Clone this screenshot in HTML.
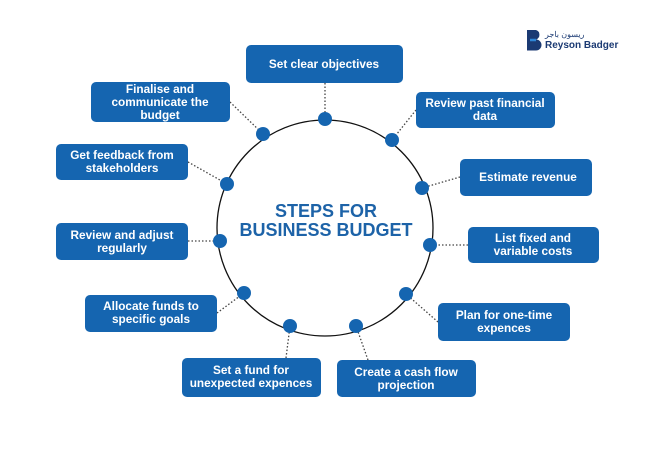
<!DOCTYPE html>
<html><head><meta charset="utf-8"><style>
html,body{margin:0;padding:0;background:#fff;width:650px;height:450px;overflow:hidden}
svg{display:block}
.b{fill:#1565b0}
.t{font-family:"Liberation Sans",sans-serif;font-weight:bold;font-size:11.8px;fill:#fff;text-anchor:middle}
.c{stroke:#444;stroke-width:1.3;stroke-dasharray:1.5 2;fill:none}
.d{fill:#1565b0}
</style></head><body>
<svg width="650" height="450" viewBox="0 0 650 450">
<circle cx="325" cy="228" r="108" fill="none" stroke="#111" stroke-width="1.3"/>
<text x="326" y="217" font-family="Liberation Sans,sans-serif" font-weight="bold" font-size="18" fill="#1d63a8" text-anchor="middle">STEPS FOR</text>
<text x="326" y="236" font-family="Liberation Sans,sans-serif" font-weight="bold" font-size="18" fill="#1d63a8" text-anchor="middle">BUSINESS BUDGET</text>
<path class="c" d="M325 83L325 119"/>
<path class="c" d="M416 110L392 140"/>
<path class="c" d="M460 177L422 188"/>
<path class="c" d="M468 245L430 245"/>
<path class="c" d="M438 322L406 294"/>
<path class="c" d="M368 360L356 326"/>
<path class="c" d="M286 358L290 326"/>
<path class="c" d="M217 313L244 293"/>
<path class="c" d="M188 241L220 241"/>
<path class="c" d="M188 162L227 184"/>
<path class="c" d="M230 102L263 134"/>
<g class="d">
<circle cx="325" cy="119" r="7"/><circle cx="392" cy="140" r="7"/><circle cx="422" cy="188" r="7"/>
<circle cx="430" cy="245" r="7"/><circle cx="406" cy="294" r="7"/><circle cx="356" cy="326" r="7"/>
<circle cx="290" cy="326" r="7"/><circle cx="244" cy="293" r="7"/><circle cx="220" cy="241" r="7"/>
<circle cx="227" cy="184" r="7"/><circle cx="263" cy="134" r="7"/>
</g>
<g class="b">
<rect x="246" y="45" width="157" height="38" rx="5"/>
<rect x="416" y="92" width="139" height="36" rx="5"/>
<rect x="460" y="159" width="132" height="37" rx="5"/>
<rect x="468" y="227" width="131" height="36" rx="5"/>
<rect x="438" y="303" width="132" height="38" rx="5"/>
<rect x="337" y="360" width="139" height="37" rx="5"/>
<rect x="182" y="358" width="139" height="39" rx="5"/>
<rect x="85" y="295" width="132" height="37" rx="5"/>
<rect x="56" y="223" width="132" height="37" rx="5"/>
<rect x="56" y="144" width="132" height="36" rx="5"/>
<rect x="91" y="82" width="139" height="40" rx="5"/>
</g>
<text class="t" x="324" y="68">Set clear objectives</text>
<text class="t" x="485" y="107">Review past financial</text><text class="t" x="485" y="120">data</text>
<text class="t" x="528" y="181">Estimate revenue</text>
<text class="t" x="533" y="242">List fixed and</text><text class="t" x="533" y="255">variable costs</text>
<text class="t" x="504" y="319">Plan for one-time</text><text class="t" x="504" y="332">expences</text>
<text class="t" x="406" y="376">Create a cash flow</text><text class="t" x="406" y="389">projection</text>
<text class="t" x="251" y="374">Set a fund for</text><text class="t" x="251" y="387">unexpected expences</text>
<text class="t" x="151" y="310">Allocate funds to</text><text class="t" x="151" y="323">specific goals</text>
<text class="t" x="122" y="239">Review and adjust</text><text class="t" x="122" y="252">regularly</text>
<text class="t" x="122" y="159">Get feedback from</text><text class="t" x="122" y="172">stakeholders</text>
<text class="t" x="160" y="93">Finalise and</text><text class="t" x="160" y="106">communicate the</text><text class="t" x="160" y="119">budget</text>
<path d="M527 30h9a5 5 0 0 1 0 9.5a5.5 5.5 0 0 1 0 11h-9z" fill="#1b3a73"/>
<path d="M530 40h6" stroke="#2f86d6" stroke-width="2.5"/>
<text x="545" y="37" font-family="Liberation Sans,sans-serif" font-size="8" fill="#1b3a73">ريسون باجر</text>
<text x="545" y="48" font-family="Liberation Sans,sans-serif" font-weight="bold" font-size="10" fill="#1b3a73">Reyson Badger</text>
</svg>
</body></html>
